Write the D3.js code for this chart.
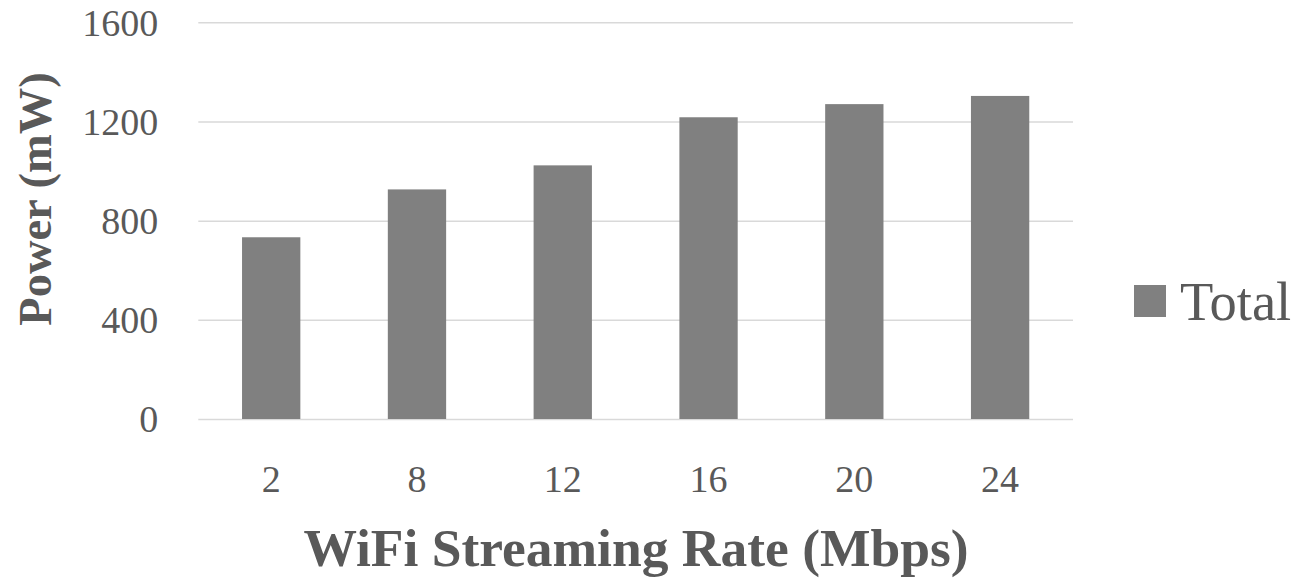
<!DOCTYPE html>
<html><head><meta charset="utf-8">
<script src="https://cdn.jsdelivr.net/npm/d3@7"></script>
<style>body{margin:0;background:#fff}svg{display:block}</style>
</head><body>
<svg id="c" width="1297" height="579"></svg>
<script>
const categories = ["2","8","12","16","20","24"];
const totalValues = [733, 926, 1023, 1217, 1270, 1303];
const yTicks = [0, 400, 800, 1200, 1600];
const seriesName = "Total";
const xTitle = "WiFi Streaming Rate (Mbps)";
const yTitle = "Power (mW)";

const svg = d3.select("#c");
const font = "'Liberation Serif', 'DejaVu Serif', serif";
const textColor = "#595959";
const m = {left:198.3, right:1073, top:22.3, bottom:419};

const x = d3.scaleBand().domain(categories).range([m.left, m.right]).paddingInner(0.6).paddingOuter(0.3);
const y = d3.scaleLinear().domain([0,1600]).range([m.bottom, m.top]);

// gridlines
const yAxis = d3.axisLeft(y).tickValues(yTicks).tickSize(-(m.right-m.left)).tickPadding(40).tickFormat(d3.format("d"));
const gy = svg.append("g").attr("transform",`translate(${m.left},0)`).call(yAxis);
gy.select(".domain").remove();
gy.selectAll(".tick line").attr("stroke","#d9d9d9").attr("stroke-width",1.5);
gy.selectAll(".tick text").attr("fill",textColor).style("font-family",font).style("font-size","38px").attr("dy","0.34em");

// bars
svg.append("g").selectAll("rect").data(categories).join("rect")
  .attr("x", d=>x(d)).attr("width", x.bandwidth())
  .attr("y", (d,i)=>y(totalValues[i])).attr("height",(d,i)=>y(0)-y(totalValues[i]))
  .attr("fill","#808080");

// x axis labels
const xAxis = d3.axisBottom(x).tickSize(0).tickPadding(0);
const gx = svg.append("g").attr("transform",`translate(0,${m.bottom})`).call(xAxis);
gx.select(".domain").remove();
gx.selectAll(".tick text").attr("fill",textColor).style("font-family",font).style("font-size","38px").attr("y",73).attr("dy",0);

// axis titles
svg.append("text").attr("x",636).attr("y",566).attr("text-anchor","middle")
  .attr("fill",textColor).style("font-family",font).style("font-weight","bold").style("font-size","53.5px").text(xTitle);
svg.append("text").attr("transform",`translate(51,199) rotate(-90)`).attr("text-anchor","middle")
  .attr("fill",textColor).style("font-family",font).style("font-weight","bold").style("font-size","46.5px").text(yTitle);

// legend
const lg = svg.append("g");
lg.append("rect").attr("x",1134).attr("y",285).attr("width",32).attr("height",32).attr("fill","#808080");
lg.append("text").attr("x",1180).attr("y",320).attr("fill",textColor).style("font-family",font).style("font-size","54.5px").text(seriesName);
</script>
</body></html>
